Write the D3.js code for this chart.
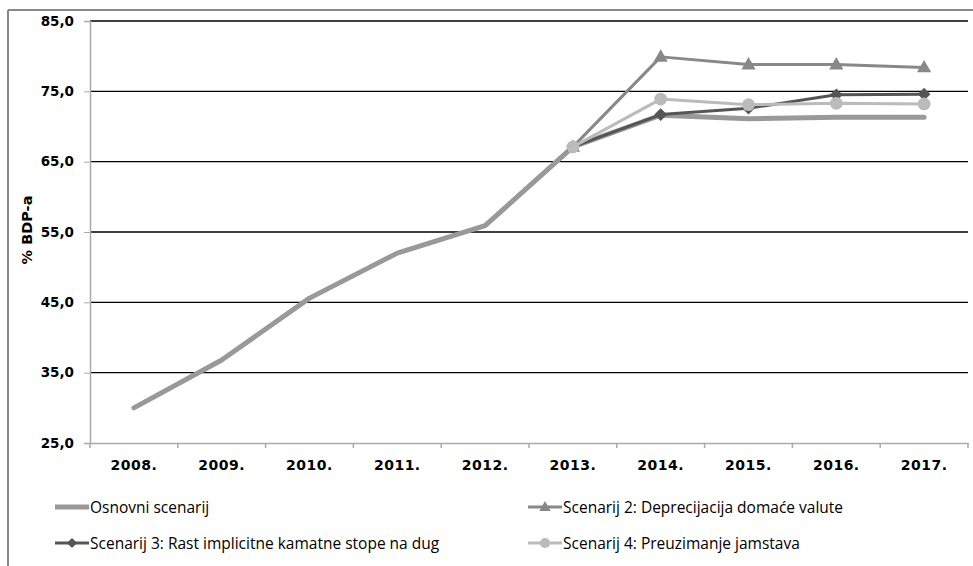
<!DOCTYPE html>
<html><head><meta charset="utf-8">
<script src="https://cdn.jsdelivr.net/npm/d3@7"></script>
<style>body{margin:0;background:#fff}svg{display:block}</style>
</head><body><svg id="c" width="973" height="566"></svg>
<script>
const years = ["2008.","2009.","2010.","2011.","2012.","2013.","2014.","2015.","2016.","2017."];
const osnovni = [30.0,36.8,45.6,52.0,55.9,67.1,71.6,71.1,71.3,71.3];
const scen2   = [null,null,null,null,null,67.1,79.9,78.8,78.8,78.4];
const scen3   = [null,null,null,null,null,67.1,71.7,72.6,74.5,74.6];
const scen4   = [null,null,null,null,null,67.1,73.9,73.1,73.3,73.2];
const yTicks = [25,35,45,55,65,75,85];
const seriesNames = ["Osnovni scenarij","Scenarij 2: Deprecijacija domaće valute","Scenarij 3: Rast implicitne kamatne stope na dug","Scenarij 4: Preuzimanje jamstava"];

const svg = d3.select("#c");
const L=90,R=968,T=21,B=443;
const x = d3.scaleBand().domain(years).range([L,R]);
const y = d3.scaleLinear().domain([25,85]).range([B,T]);

// outer frame
svg.append("line").attr("x1",8).attr("x2",973).attr("y1",10).attr("y2",10).attr("stroke","#888").attr("stroke-width",2);
svg.append("line").attr("x1",8).attr("x2",8).attr("y1",10).attr("y2",566).attr("stroke","#888").attr("stroke-width",2);

// gridlines
svg.append("g").selectAll("line").data(yTicks.filter(d=>d>25)).join("line")
  .attr("x1",L).attr("x2",R).attr("y1",d=>y(d)).attr("y2",d=>y(d))
  .attr("stroke","#000").attr("stroke-width",1.3);

// y axis
const ya = svg.append("g").attr("transform",`translate(${L},0)`)
  .call(d3.axisLeft(y).tickValues(yTicks).tickSize(6).tickPadding(10).tickFormat(d=>d3.format(".1f")(d).replace(".",",")));
ya.select(".domain").attr("stroke","#aaa").attr("stroke-width",1.5);
ya.selectAll(".tick line").attr("stroke","#aaa");
ya.selectAll("text").attr("font-family","DejaVu Sans, Verdana, sans-serif").attr("font-weight","bold").attr("font-size",13.5).attr("fill","#000");

// x axis
const xa = svg.append("g").attr("transform",`translate(0,${B})`)
  .call(d3.axisBottom(x).tickSize(0).tickPadding(17));
xa.select(".domain").attr("stroke","#aaa").attr("stroke-width",1.5);
xa.selectAll("text").attr("font-family","DejaVu Sans, Verdana, sans-serif").attr("font-weight","bold").attr("font-size",14).attr("letter-spacing","0.5px").attr("fill","#000");
svg.append("g").selectAll("line").data(d3.range(years.length+1)).join("line")
  .attr("x1",i=>L+i*x.step()).attr("x2",i=>L+i*x.step()).attr("y1",B).attr("y2",B+5)
  .attr("stroke","#aaa").attr("stroke-width",1.5);

// y label
svg.append("text").attr("transform","translate(32,230) rotate(-90)").attr("text-anchor","middle")
  .attr("font-family","DejaVu Sans, Verdana, sans-serif").attr("font-weight","bold").attr("font-size",14.5).text("% BDP-a");

const cx = i=>x(years[i])+x.bandwidth()/2;
const line = d3.line().defined(d=>d!=null).x((d,i)=>cx(i)).y(d=>y(d));

function tri(s){return `M0,${-s}L${s*0.95},${s*0.65}L${-s*0.95},${s*0.65}Z`;}
function dia(s){return `M0,${-s}L${s},0L0,${s}L${-s},0Z`;}

const series = [
  {data:osnovni,color:"#999",w:5,marker:null},
  {data:scen2,color:"#888",w:3,marker:"tri"},
  {data:scen3,color:"#555",w:3,marker:"dia"},
  {data:scen4,color:"#bbb",w:3,marker:"circ"}
];
function drawMarker(g,m,color,px,py,size){
  if(m==="tri") g.append("path").attr("d",tri(size)).attr("transform",`translate(${px},${py})`).attr("fill",color);
  else if(m==="dia") g.append("path").attr("d",dia(size*0.85)).attr("transform",`translate(${px},${py})`).attr("fill",color);
  else if(m==="circ") g.append("circle").attr("cx",px).attr("cy",py).attr("r",size*0.85).attr("fill",color);
}
[0,1,2,3].forEach(k=>{
  const s=series[k];
  const g=svg.append("g");
  g.append("path").datum(s.data).attr("d",line).attr("fill","none").attr("stroke",s.color)
    .attr("stroke-width",s.w).attr("stroke-linejoin","round").attr("stroke-linecap","round");
  if(s.marker) s.data.forEach((d,i)=>{ if(d!=null) drawMarker(g,s.marker,s.color,cx(i),y(d),7.5); });
});

// legend
const leg = [
  {k:0,x:55,y:507},{k:1,x:528,y:507},{k:2,x:55,y:543},{k:3,x:528,y:543}
];
leg.forEach(l=>{
  const s=series[l.k];
  const g=svg.append("g");
  g.append("line").attr("x1",l.x).attr("x2",l.x+34).attr("y1",l.y).attr("y2",l.y).attr("stroke",s.color).attr("stroke-width",s.w);
  if(s.marker) drawMarker(g,s.marker,s.color,l.x+17,l.y,6);
  g.append("text").attr("x",l.x+35).attr("y",l.y+5.5).attr("font-family","Open Sans, sans-serif").attr("font-size",15.5).attr("fill","#000").text(seriesNames[l.k]);
});
</script></body></html>
